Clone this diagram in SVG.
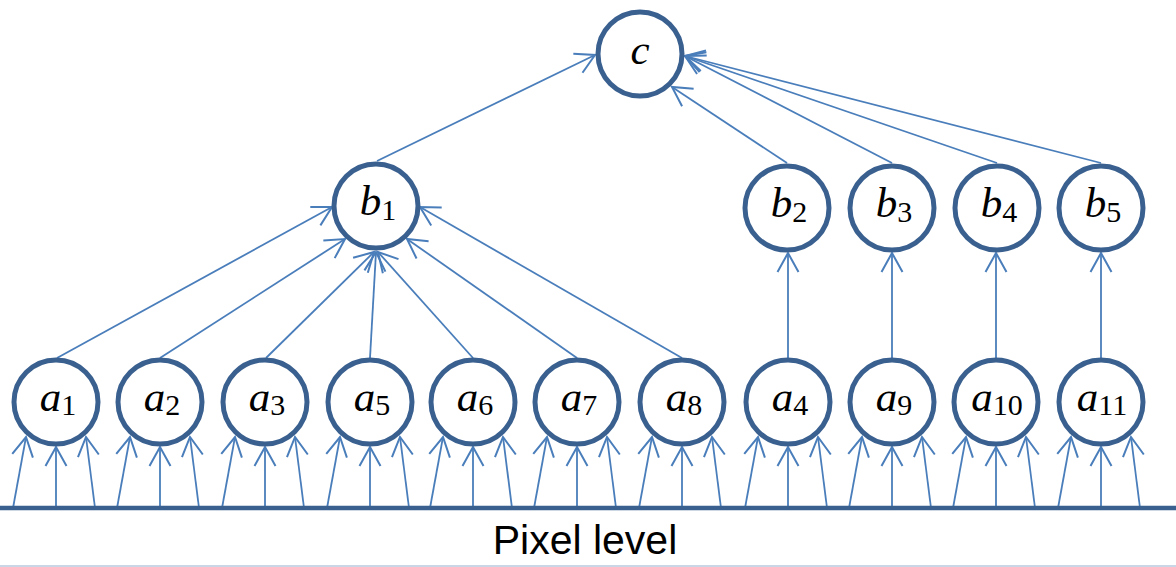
<svg xmlns="http://www.w3.org/2000/svg" width="1176" height="567" viewBox="0 0 1176 567">
<style>
.n{fill:#fff;stroke:#3A6090;stroke-width:5}
.e{stroke:#4A7EBB;stroke-width:1.8;fill:none;marker-end:url(#ah)}
.t{font-family:"Liberation Serif",serif;font-style:italic;font-size:43px;fill:#000;text-anchor:middle}
.s{font-style:normal;font-size:30px}
</style>
<defs>
<marker id="ah" markerUnits="userSpaceOnUse" markerWidth="26" markerHeight="26" viewBox="-21 -13 23 26" refX="0" refY="0" orient="auto">
<path d="M-19,-10.5 L0,0 L-19,10.5" fill="none" stroke="#4A7EBB" stroke-width="2"/>
</marker>
</defs>
<rect width="1176" height="567" fill="#fff"/>
<g id="connectors">
<g id="pix">
<line class="e" x1="13" y1="508" x2="26" y2="437"/><line class="e" x1="56" y1="508" x2="56" y2="447"/><line class="e" x1="95" y1="508" x2="86" y2="437"/>
<line class="e" x1="117" y1="508" x2="130" y2="437"/><line class="e" x1="160" y1="508" x2="160" y2="447"/><line class="e" x1="199" y1="508" x2="190" y2="437"/>
<line class="e" x1="222" y1="508" x2="235" y2="437"/><line class="e" x1="265" y1="508" x2="265" y2="447"/><line class="e" x1="304" y1="508" x2="295" y2="437"/>
<line class="e" x1="327" y1="508" x2="340" y2="437"/><line class="e" x1="370" y1="508" x2="370" y2="447"/><line class="e" x1="409" y1="508" x2="400" y2="437"/>
<line class="e" x1="430" y1="508" x2="443" y2="437"/><line class="e" x1="473" y1="508" x2="473" y2="447"/><line class="e" x1="512" y1="508" x2="503" y2="437"/>
<line class="e" x1="534" y1="508" x2="547" y2="437"/><line class="e" x1="577" y1="508" x2="577" y2="447"/><line class="e" x1="616" y1="508" x2="607" y2="437"/>
<line class="e" x1="639" y1="508" x2="652" y2="437"/><line class="e" x1="682" y1="508" x2="682" y2="447"/><line class="e" x1="721" y1="508" x2="712" y2="437"/>
<line class="e" x1="745" y1="508" x2="758" y2="437"/><line class="e" x1="788" y1="508" x2="788" y2="447"/><line class="e" x1="827" y1="508" x2="818" y2="437"/>
<line class="e" x1="849" y1="508" x2="862" y2="437"/><line class="e" x1="892" y1="508" x2="892" y2="447"/><line class="e" x1="931" y1="508" x2="922" y2="437"/>
<line class="e" x1="953" y1="508" x2="966" y2="437"/><line class="e" x1="996" y1="508" x2="996" y2="447"/><line class="e" x1="1035" y1="508" x2="1026" y2="437"/>
<line class="e" x1="1058" y1="508" x2="1071" y2="437"/><line class="e" x1="1101" y1="508" x2="1101" y2="447"/><line class="e" x1="1140" y1="508" x2="1131" y2="437"/>
</g>
<line class="e" x1="57" y1="358" x2="332" y2="207"/>
<line class="e" x1="160" y1="358" x2="345" y2="239"/>
<line class="e" x1="266" y1="358" x2="374" y2="252"/>
<line class="e" x1="370" y1="358" x2="376" y2="252"/>
<line class="e" x1="473" y1="358" x2="378" y2="252"/>
<line class="e" x1="577" y1="358" x2="407" y2="239"/>
<line class="e" x1="682" y1="358" x2="420" y2="207"/>
<line class="e" x1="788" y1="358" x2="788" y2="253"/>
<line class="e" x1="892" y1="358" x2="892" y2="253"/>
<line class="e" x1="996" y1="358" x2="996" y2="253"/>
<line class="e" x1="1101" y1="358" x2="1101" y2="253"/>
<line class="e" x1="377" y1="161" x2="595" y2="55"/>
<line class="e" x1="787" y1="163" x2="672" y2="87"/>
<line class="e" x1="892" y1="163" x2="685" y2="56"/>
<line class="e" x1="997" y1="163" x2="685" y2="56"/>
<line class="e" x1="1101" y1="163" x2="685" y2="56"/>
</g>
<g id="c"><circle class="n" cx="640" cy="54" r="42"/><text class="t" x="640" y="64">c</text></g>
<g id="b1"><circle class="n" cx="376" cy="206" r="42"/><text class="t" x="378" y="215">b<tspan class="s" dy="5">1</tspan></text></g>
<g id="b2"><circle class="n" cx="787" cy="208" r="42"/><text class="t" x="789" y="217">b<tspan class="s" dy="5">2</tspan></text></g>
<g id="b3"><circle class="n" cx="892" cy="208" r="42"/><text class="t" x="894" y="217">b<tspan class="s" dy="5">3</tspan></text></g>
<g id="b4"><circle class="n" cx="997" cy="208" r="42"/><text class="t" x="999" y="217">b<tspan class="s" dy="5">4</tspan></text></g>
<g id="b5"><circle class="n" cx="1101" cy="208" r="42"/><text class="t" x="1103" y="217">b<tspan class="s" dy="5">5</tspan></text></g>
<g id="a1"><circle class="n" cx="56" cy="402" r="42"/><text class="t" x="58" y="411">a<tspan class="s" dy="4">1</tspan></text></g>
<g id="a2"><circle class="n" cx="160" cy="402" r="42"/><text class="t" x="162" y="411">a<tspan class="s" dy="4">2</tspan></text></g>
<g id="a3"><circle class="n" cx="265" cy="402" r="42"/><text class="t" x="267" y="411">a<tspan class="s" dy="4">3</tspan></text></g>
<g id="a5"><circle class="n" cx="370" cy="402" r="42"/><text class="t" x="372" y="411">a<tspan class="s" dy="4">5</tspan></text></g>
<g id="a6"><circle class="n" cx="473" cy="402" r="42"/><text class="t" x="475" y="411">a<tspan class="s" dy="4">6</tspan></text></g>
<g id="a7"><circle class="n" cx="577" cy="402" r="42"/><text class="t" x="579" y="411">a<tspan class="s" dy="4">7</tspan></text></g>
<g id="a8"><circle class="n" cx="682" cy="402" r="42"/><text class="t" x="684" y="411">a<tspan class="s" dy="4">8</tspan></text></g>
<g id="a4"><circle class="n" cx="788" cy="402" r="42"/><text class="t" x="790" y="411">a<tspan class="s" dy="4">4</tspan></text></g>
<g id="a9"><circle class="n" cx="892" cy="402" r="42"/><text class="t" x="894" y="411">a<tspan class="s" dy="4">9</tspan></text></g>
<g id="a10"><circle class="n" cx="996" cy="402" r="42"/><text class="t" x="997" y="411">a<tspan class="s" dy="4">10</tspan></text></g>
<g id="a11"><circle class="n" cx="1101" cy="402" r="42"/><text class="t" x="1102" y="411">a<tspan class="s" dy="4">11</tspan></text></g>
<g id="pixel-level">
<line x1="0" y1="508" x2="1176" y2="508" stroke="#3A6090" stroke-width="4.5"/>
<text x="585" y="554" font-family="'Liberation Sans',Arial,sans-serif" font-size="41" fill="#000" text-anchor="middle">Pixel level</text>
<line x1="0" y1="566" x2="1176" y2="566" stroke="#B8C8DC" stroke-width="1.5"/>
</g>
</svg>
